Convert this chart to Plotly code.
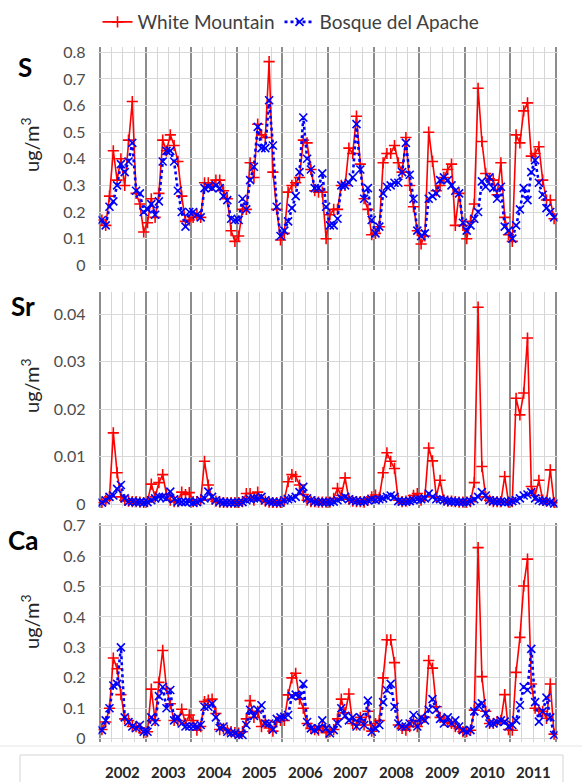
import numpy as np
import plotly.graph_objects as go

years = ["2002", "2003", "2004", "2005", "2006", "2007", "2008", "2009", "2010", "2011"]

# Monthly values, Jan 2002 .. Dec 2011 (12 values per row = one year)
S_white = [
    0.17, 0.15, 0.26, 0.43, 0.32, 0.40, 0.30, 0.47, 0.615, 0.27, 0.23, 0.125,
    0.16, 0.25, 0.18, 0.27, 0.47, 0.43, 0.49, 0.45, 0.39, 0.26, 0.165, 0.17,
    0.18, 0.19, 0.18, 0.31, 0.31, 0.30, 0.32, 0.32, 0.28, 0.25, 0.13, 0.09,
    0.11, 0.21, 0.21, 0.385, 0.33, 0.53, 0.49, 0.48, 0.765, 0.35, 0.21, 0.095,
    0.12, 0.275, 0.30, 0.31, 0.33, 0.47, 0.46, 0.36, 0.28, 0.275, 0.275, 0.10,
    0.19, 0.21, 0.21, 0.30, 0.30, 0.44, 0.42, 0.56, 0.38, 0.25, 0.21, 0.115,
    0.12, 0.145, 0.385, 0.42, 0.42, 0.45, 0.385, 0.35, 0.48, 0.30, 0.22, 0.13,
    0.08, 0.11, 0.50, 0.39, 0.28, 0.30, 0.33, 0.36, 0.38, 0.15, 0.27, 0.15,
    0.10, 0.165, 0.23, 0.665, 0.465, 0.345, 0.325, 0.32, 0.265, 0.385, 0.18, 0.115,
    0.09, 0.49, 0.46, 0.58, 0.61, 0.41, 0.42, 0.445, 0.32, 0.245, 0.245, 0.175,
]
S_bosque = [
    0.17, 0.15, 0.22, 0.24, 0.30, 0.38, 0.35, 0.39, 0.46, 0.28, 0.27, 0.20,
    0.21, 0.23, 0.19, 0.24, 0.39, 0.43, 0.43, 0.39, 0.28, 0.20, 0.145, 0.20,
    0.20, 0.19, 0.18, 0.29, 0.295, 0.29, 0.30, 0.29, 0.26, 0.245, 0.175, 0.17,
    0.17, 0.25, 0.21, 0.32, 0.37, 0.52, 0.44, 0.44, 0.62, 0.45, 0.22, 0.11,
    0.13, 0.165, 0.215, 0.26, 0.35, 0.555, 0.40, 0.36, 0.29, 0.29, 0.345, 0.22,
    0.15, 0.15, 0.175, 0.30, 0.30, 0.31, 0.33, 0.53, 0.36, 0.25, 0.29, 0.17,
    0.12, 0.145, 0.27, 0.295, 0.30, 0.31, 0.31, 0.35, 0.46, 0.34, 0.25, 0.13,
    0.11, 0.12, 0.25, 0.26, 0.27, 0.32, 0.33, 0.32, 0.30, 0.28, 0.27, 0.16,
    0.13, 0.15, 0.175, 0.20, 0.315, 0.295, 0.33, 0.29, 0.25, 0.295, 0.145, 0.13,
    0.10, 0.15, 0.21, 0.29, 0.245, 0.35, 0.395, 0.31, 0.265, 0.215, 0.20, 0.18,
]
Sr_white = [
    0.0003, 0.0008, 0.0015, 0.015, 0.0066, 0.0015, 0.0008, 0.0006, 0.0005, 0.0005, 0.0004, 0.0003,
    0.0005, 0.0042, 0.0015, 0.0045, 0.0062, 0.002, 0.0008, 0.0005, 0.0005, 0.0025, 0.002, 0.0024,
    0.0005, 0.0005, 0.0008, 0.009, 0.004, 0.001, 0.0006, 0.0004, 0.0003, 0.0003, 0.0003, 0.0003,
    0.0003, 0.0005, 0.0022, 0.0022, 0.0008, 0.0025, 0.001, 0.0006, 0.0004, 0.0003, 0.0003, 0.0003,
    0.0008, 0.0047, 0.0062, 0.0058, 0.004, 0.002, 0.0008, 0.0005, 0.0005, 0.0004, 0.0004, 0.0004,
    0.0004, 0.0012, 0.0033, 0.0018, 0.0055, 0.001, 0.0006, 0.0005, 0.0005, 0.0004, 0.0008, 0.0015,
    0.0019, 0.0013, 0.0066, 0.0108, 0.009, 0.0075, 0.0008, 0.0005, 0.0006, 0.0008, 0.0018, 0.0022,
    0.0008, 0.0015, 0.0118, 0.0091, 0.0015, 0.005, 0.0008, 0.0006, 0.0006, 0.0005, 0.0004, 0.0004,
    0.0004, 0.0005, 0.0045, 0.0415, 0.0079, 0.0015, 0.0008, 0.0005, 0.0005, 0.0005, 0.0058, 0.0004,
    0.0005, 0.0223, 0.0188, 0.0234, 0.035, 0.0037, 0.0018, 0.005, 0.0008, 0.0006, 0.0072, 0.0003,
]
Sr_bosque = [
    0.0003, 0.0008, 0.0015, 0.0018, 0.0032, 0.0040, 0.0012, 0.0005, 0.0005, 0.0004, 0.0004, 0.0003,
    0.0004, 0.0008, 0.0012, 0.0015, 0.0015, 0.0012, 0.0026, 0.001, 0.0005, 0.0004, 0.0004, 0.0005,
    0.0003, 0.0004, 0.0008, 0.0012, 0.0026, 0.0015, 0.0008, 0.0005, 0.0003, 0.0003, 0.0003, 0.0003,
    0.0003, 0.0004, 0.0008, 0.001, 0.0012, 0.0012, 0.0015, 0.0008, 0.0005, 0.0004, 0.0003, 0.0003,
    0.0008, 0.001, 0.0012, 0.0015, 0.0025, 0.0036, 0.0012, 0.0008, 0.0005, 0.0004, 0.0004, 0.0004,
    0.0004, 0.0005, 0.0008, 0.0012, 0.0015, 0.001, 0.0008, 0.0006, 0.0005, 0.0005, 0.0008, 0.001,
    0.0008, 0.001, 0.0012, 0.0015, 0.0018, 0.0015, 0.0006, 0.0005, 0.0005, 0.0006, 0.0008, 0.001,
    0.001, 0.0012, 0.0022, 0.0015, 0.001, 0.001, 0.0008, 0.0006, 0.0005, 0.0005, 0.0004, 0.0004,
    0.0004, 0.0006, 0.001, 0.0015, 0.0025, 0.0018, 0.0008, 0.0006, 0.0005, 0.0005, 0.0004, 0.0004,
    0.0006, 0.0008, 0.0012, 0.0018, 0.002, 0.0025, 0.0012, 0.0008, 0.0006, 0.0005, 0.0004, 0.0001,
]
Ca_white = [
    0.03, 0.055, 0.1, 0.265, 0.23, 0.145, 0.065, 0.06, 0.04, 0.04, 0.035, 0.02,
    0.023, 0.163, 0.06, 0.185, 0.29, 0.165, 0.115, 0.06, 0.06, 0.097, 0.05, 0.078,
    0.06, 0.028, 0.04, 0.122, 0.127, 0.13, 0.083, 0.03, 0.034, 0.028, 0.023, 0.02,
    0.018, 0.023, 0.065, 0.125, 0.07, 0.09, 0.04, 0.06, 0.035, 0.025, 0.055, 0.06,
    0.06, 0.144, 0.2, 0.215, 0.13, 0.1, 0.05, 0.034, 0.03, 0.028, 0.04, 0.02,
    0.023, 0.03, 0.065, 0.13, 0.085, 0.147, 0.05, 0.045, 0.07, 0.045, 0.09, 0.025,
    0.05, 0.06, 0.2, 0.325, 0.325, 0.25, 0.045, 0.034, 0.028, 0.04, 0.06, 0.04,
    0.06, 0.07, 0.257, 0.232, 0.105, 0.07, 0.06, 0.055, 0.05, 0.04, 0.034, 0.023,
    0.023, 0.028, 0.094, 0.628, 0.204, 0.09, 0.05, 0.05, 0.056, 0.06, 0.145, 0.03,
    0.028, 0.218, 0.333, 0.502, 0.59, 0.18, 0.1, 0.094, 0.09, 0.067, 0.18, 0.015,
]
Ca_bosque = [
    0.028, 0.06, 0.1, 0.175, 0.18, 0.30, 0.07, 0.055, 0.04, 0.035, 0.045, 0.023,
    0.023, 0.07, 0.055, 0.14, 0.17, 0.1, 0.16, 0.06, 0.07, 0.05, 0.04, 0.04,
    0.04, 0.04, 0.045, 0.105, 0.105, 0.115, 0.07, 0.035, 0.04, 0.023, 0.018, 0.018,
    0.012, 0.012, 0.045, 0.095, 0.075, 0.095, 0.11, 0.05, 0.05, 0.03, 0.065, 0.07,
    0.072, 0.078, 0.14, 0.145, 0.14, 0.18, 0.055, 0.034, 0.028, 0.034, 0.06, 0.034,
    0.018, 0.028, 0.05, 0.1, 0.075, 0.06, 0.07, 0.04, 0.07, 0.045, 0.125, 0.023,
    0.034, 0.045, 0.12, 0.16, 0.18, 0.105, 0.05, 0.04, 0.04, 0.05, 0.078, 0.04,
    0.07, 0.06, 0.095, 0.13, 0.095, 0.065, 0.05, 0.07, 0.05, 0.06, 0.04, 0.028,
    0.023, 0.028, 0.09, 0.11, 0.116, 0.083, 0.05, 0.05, 0.055, 0.06, 0.056, 0.04,
    0.045, 0.06, 0.11, 0.17, 0.16, 0.295, 0.12, 0.056, 0.09, 0.135, 0.07, 0.012,
]

W, H = 582, 782
FONT = "Lato"
RED = "#ff0000"
BLUE = "#0000ff"


def fx(p):
    return p / W


def fy(p):
    return 1 - p / H


months = np.arange(len(S_white)) + 0.5  # month index, centred in each month

# panel geometry (pixels): top, bottom of plot area, pixel of value 0, pixels per unit
panels = [
    dict(label="S", white=S_white, bosque=S_bosque, top=47, bottom=270, zero=265.3,
         ppu=266.25, ticks=[0, 0.1, 0.2, 0.3, 0.4, 0.5, 0.6, 0.7, 0.8],
         lab_x=25, lab_y=67, title_y=145),
    dict(label="Sr", white=Sr_white, bosque=Sr_bosque, top=291.7, bottom=508, zero=504,
         ppu=4742.5, ticks=[0, 0.01, 0.02, 0.03, 0.04],
         lab_x=23, lab_y=306, title_y=386),
    dict(label="Ca", white=Ca_white, bosque=Ca_bosque, top=523, bottom=742, zero=738.7,
         ppu=304.29, ticks=[0, 0.1, 0.2, 0.3, 0.4, 0.5, 0.6, 0.7],
         lab_x=23, lab_y=540, title_y=622),
]

x_left_px, px_per_month = 100, 3.8
x_range = [-0.4, 120.4]
x_dom = [fx(x_left_px + x_range[0] * px_per_month), fx(x_left_px + x_range[1] * px_per_month)]

fig = go.Figure()
annotations = []
layout = {}
for k, p in enumerate(panels, start=1):
    xa = "x" if k == 1 else f"x{k}"
    ya = "y" if k == 1 else f"y{k}"
    fig.add_trace(go.Scatter(
        x=months, y=p["white"], xaxis=xa, yaxis=ya, mode="lines+markers",
        name="White Mountain", legendgroup="wm", showlegend=(k == 1),
        line=dict(color=RED, width=1.6),
        marker=dict(symbol="cross-thin", size=8, line=dict(color=RED, width=1.6)),
    ))
    fig.add_trace(go.Scatter(
        x=months, y=p["bosque"], xaxis=xa, yaxis=ya, mode="lines+markers",
        name="Bosque del Apache", legendgroup="ba", showlegend=(k == 1),
        line=dict(color=BLUE, width=2.6, dash="dot"),
        marker=dict(symbol="x-thin", size=8, line=dict(color=BLUE, width=1.6)),
    ))
    vtop = (p["zero"] - p["top"]) / p["ppu"]
    vbot = (p["zero"] - p["bottom"]) / p["ppu"]
    xkey = "xaxis" if k == 1 else f"xaxis{k}"
    ykey = "yaxis" if k == 1 else f"yaxis{k}"
    layout[xkey] = dict(
        domain=x_dom, range=x_range, anchor=ya, tick0=0, dtick=12, automargin=False,
        showticklabels=False, ticks="", zeroline=False, showline=False,
        showgrid=True, gridcolor="#8c8c8c", gridwidth=1.6,
        minor=dict(tick0=0, dtick=3, showgrid=True, gridcolor="#d6d6d6", gridwidth=1),
    )
    layout[ykey] = dict(
        domain=[fy(p["bottom"]), fy(p["top"])], range=[vbot, vtop], anchor=xa,
        tickvals=p["ticks"], ticks="", zeroline=False, showline=False, automargin=False,
        showgrid=True, gridcolor="#d9d9d9", gridwidth=1,
        tickfont=dict(family=FONT, size=16, color="#4d4d4d"),
        ticklabelstandoff=12,
    )
    annotations.append(dict(
        text=f"<b>{p['label']}</b>", xref="paper", yref="paper",
        x=fx(p["lab_x"]), y=fy(p["lab_y"]), xanchor="center", yanchor="middle",
        showarrow=False, font=dict(family=FONT, size=26, color="#000000"),
    ))
    annotations.append(dict(
        text="ug/m<sup>3</sup>", xref="paper", yref="paper", textangle=-90,
        x=fx(30), y=fy(p["title_y"]), xanchor="center", yanchor="middle",
        showarrow=False, font=dict(family=FONT, size=20, color="#262626"),
    ))

for i, yr in enumerate(years):
    annotations.append(dict(
        text=f"<b>{yr}</b>", xref="x3", yref="paper", x=12 * i + 6, y=fy(772),
        xanchor="center", yanchor="middle",
        showarrow=False, font=dict(family=FONT, size=15, color="#262626"),
    ))

shapes = [
    dict(type="line", xref="paper", yref="paper", x0=0, x1=1, y0=fy(746), y1=fy(746),
         line=dict(color="#e6e6e6", width=1)),
    dict(type="rect", xref="paper", yref="paper", x0=fx(20), x1=fx(563), y0=fy(800), y1=fy(755),
         line=dict(color="#d4d4d4", width=1)),
]

fig.update_layout(
    width=W, height=H, margin=dict(l=0, r=0, t=0, b=0, autoexpand=False),
    paper_bgcolor="white", plot_bgcolor="white",
    font=dict(family=FONT),
    showlegend=True,
    legend=dict(orientation="h", xref="container", yref="container",
                x=0.5, xanchor="center", y=fy(3), yanchor="top",
                font=dict(family=FONT, size=19, color="#404040"), itemwidth=30,
                bgcolor="rgba(0,0,0,0)"),
    annotations=annotations, shapes=shapes,
    **layout,
)

fig.write_html(
    "out.html",
    config={"displayModeBar": False},
    post_script="document.body.style.margin='0';document.body.style.overflow='hidden';",
)
